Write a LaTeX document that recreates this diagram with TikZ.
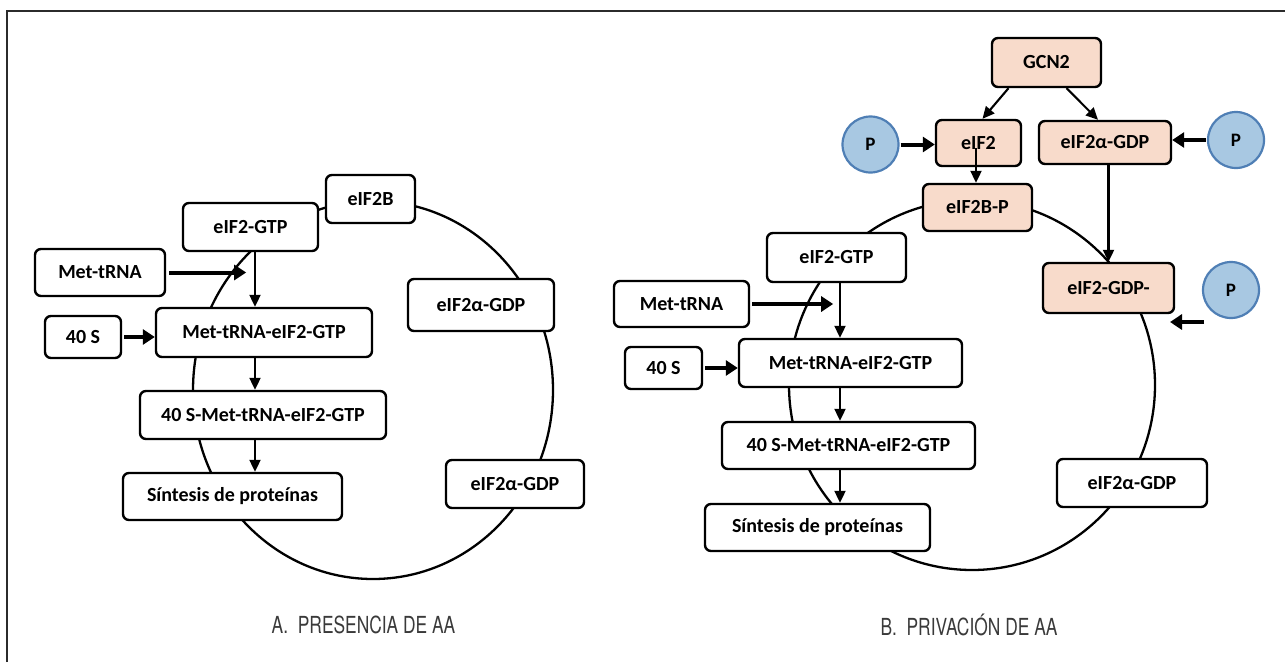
\documentclass[tikz,border=0pt]{standalone}
\usepackage{fontspec}
\setmainfont{Carlito}
\newfontfamily\capfont[FakeStretch=0.74]{TeX Gyre Heros}
\usetikzlibrary{arrows.meta,calc}
\definecolor{peach}{HTML}{F8DBCB}
\definecolor{pfill}{HTML}{A8C8E2}
\definecolor{pdraw}{HTML}{4F7FB5}
\definecolor{capc}{HTML}{3A3A3A}
\definecolor{framec}{HTML}{2B2B2B}
\begin{document}
\begin{tikzpicture}[x=1pt,y=-1pt,
  box/.style={draw=black, line width=2.4pt, rounded corners=6pt, fill=white, inner sep=0pt,
    font=\fontsize{20}{23}\selectfont\bfseries, text=black},
  pbox/.style={box, fill=peach},
  pcirc/.style={circle, draw=pdraw, line width=2.2pt, fill=pfill, minimum size=56pt, inner sep=0pt,
    font=\fontsize{19}{21}\selectfont\bfseries},
  arr/.style={line width=2.1pt, -{Triangle[length=12pt,width=11pt]}},
  tarr/.style={line width=4pt, -{Triangle[length=12pt,width=15pt]}},
  cyc/.style={line width=2.3pt},
  captxt/.style={font=\capfont\fontsize{23.5}{26}\selectfont, text=capc}]
\useasboundingbox (0,0) rectangle (1285,662);
% frame
\draw[framec, line width=2.8pt] (7,662) -- (7,11) -- (1285,11);
% cycles
\draw[cyc] (373,390) ellipse [x radius=180, y radius=189];
\draw[cyc] (972,385) ellipse [x radius=183, y radius=185];
% ---------- panel A ----------
\node[box, minimum width=89pt, minimum height=48pt] (bL) at (370.5,199) {eIF2B};
\node[box, minimum width=135pt, minimum height=48pt] (gtpL) at (250.5,227) {eIF2-GTP};
\node[box, minimum width=130pt, minimum height=47pt] (metL) at (100,272.5) {Met-tRNA};
\node[box, minimum width=76pt, minimum height=42pt] (s40L) at (83,337) {40 S};
\node[box, minimum width=216pt, minimum height=49pt] (mtgL) at (264,332.5) {Met-tRNA-eIF2-GTP};
\node[box, minimum width=246pt, minimum height=48pt] (s40mL) at (263,415) {40 S-Met-tRNA-eIF2-GTP};
\node[box, minimum width=219pt, minimum height=47pt] (sinL) at (232.5,496.5) {Síntesis de proteínas};
\node[box, minimum width=146pt, minimum height=52pt] (gdpL1) at (481,305) {eIF2α-GDP};
\node[box, minimum width=138pt, minimum height=48pt] (gdpL2) at (515,484) {eIF2α-GDP};
\coordinate (vL) at (255,0);
\draw[tarr, shorten <=3pt] (metL.east) -- ++(80,0);
\draw[arr] (vL |- gtpL.south) -- (vL |- mtgL.north);
\draw[tarr, shorten <=2pt] (s40L.east) -- (s40L.east -| mtgL.west);
\draw[arr] (vL |- mtgL.south) -- (vL |- s40mL.north);
\draw[arr] (vL |- s40mL.south) -- (vL |- sinL.north);
\node[captxt] (capA) at (363.5,625) {A.~~PRESENCIA DE AA};
% ---------- panel B ----------
\node[pbox, minimum width=109pt, minimum height=49pt] (GCN2) at (1046.5,62.5) {GCN2};
\node[pbox, minimum width=85pt, minimum height=46pt] (eIF2) at (978.5,143) {eIF2};
\node[pbox, minimum width=132pt, minimum height=43pt] (eIF2aR) at (1105,142.5) {eIF2α-GDP};
\node[pcirc] (Pl) at (870.5,144.5) {P};
\node[pcirc] (Pr) at (1236,140) {P};
\node[pcirc] (Pm) at (1231,290) {P};
\node[pbox, minimum width=109pt, minimum height=47pt] (eIF2Bp) at (977.5,207.5) {eIF2B-P};
\node[pbox, minimum width=131pt, minimum height=50pt] (gdpR) at (1108.5,288) {eIF2-GDP-};
\node[box, minimum width=139pt, minimum height=49pt] (gtpR) at (836.5,257.5) {eIF2-GTP};
\node[box, minimum width=135pt, minimum height=46pt] (metR) at (681.5,304) {Met-tRNA};
\node[box, minimum width=77pt, minimum height=42pt] (s40R) at (663.5,368) {40 S};
\node[box, minimum width=223pt, minimum height=48pt] (mtgR) at (850.5,363) {Met-tRNA-eIF2-GTP};
\node[box, minimum width=253pt, minimum height=47pt] (s40mR) at (848.5,445.5) {40 S-Met-tRNA-eIF2-GTP};
\node[box, minimum width=225pt, minimum height=47pt] (sinR) at (817.5,527.5) {Síntesis de proteínas};
\node[box, minimum width=150pt, minimum height=48pt] (gdpR2) at (1132,483) {eIF2α-GDP};
\coordinate (vR) at (840,0);
\coordinate (vE) at (976,0);
\coordinate (pma) at (1204,322);
\coordinate (pmb) at (1170,322);
\draw[arr] ([xshift=-38pt]GCN2.south) -- ([xshift=4pt]eIF2.north);
\draw[arr] ([xshift=20pt]GCN2.south) -- ([xshift=-7pt]eIF2aR.north);
\draw[tarr, shorten <=1pt] (Pl.east) -- (Pl.east -| eIF2.west);
\draw[tarr, shorten <=1pt] (Pr.west) -- (Pr.west -| eIF2aR.east);
\draw[arr] ($(vE |- eIF2.center)+(0,5)$) -- (vE |- eIF2Bp.north);
\draw[arr] (gdpR.north |- eIF2aR.south) -- (gdpR.north);
\draw[tarr] (pma) -- (pmb);
\draw[tarr, shorten <=2pt] (metR.east) -- ++(83,0);
\draw[arr] (vR |- gtpR.south) -- (vR |- mtgR.north);
\draw[tarr, shorten <=2pt] (s40R.east) -- (s40R.east -| mtgR.west);
\draw[arr] (vR |- mtgR.south) -- (vR |- s40mR.north);
\draw[arr] (vR |- s40mR.south) -- (vR |- sinR.north);
\node[captxt] (capB) at (969,625) {B.~~PRIVACIÓN DE AA};
\end{tikzpicture}
\end{document}
